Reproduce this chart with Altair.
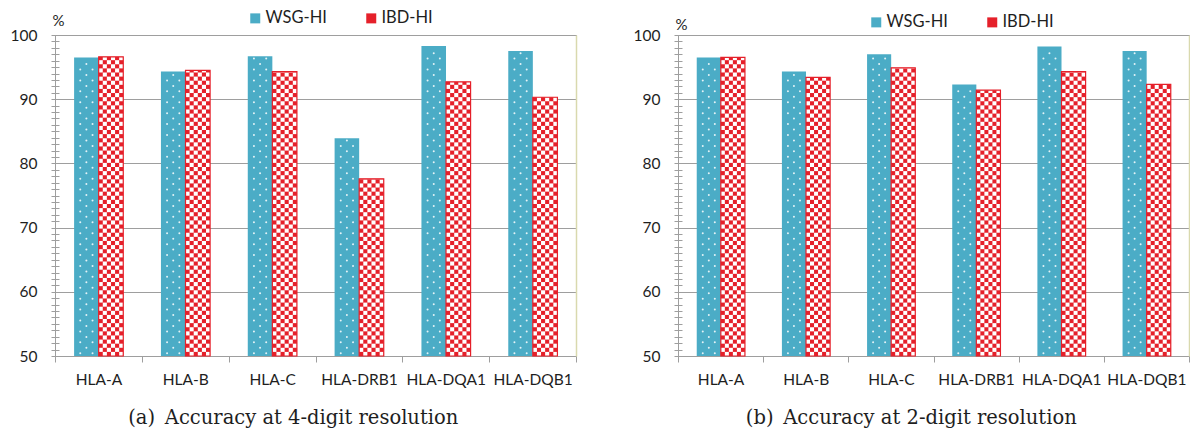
import json
import altair as alt
import pandas as pd

# ---------------- data ----------------
categories = ["HLA-A", "HLA-B", "HLA-C", "HLA-DRB1", "HLA-DQA1", "HLA-DQB1"]
series_names = ["WSG-HI", "IBD-HI"]
wsg_4digit = [96.5, 94.3, 96.7, 83.9, 98.3, 97.5]
ibd_4digit = [96.6, 94.5, 94.3, 77.6, 92.7, 90.3]
wsg_2digit = [96.5, 94.3, 97.0, 92.3, 98.2, 97.5]
ibd_2digit = [96.5, 93.4, 94.9, 91.4, 94.3, 92.3]
y_tick_values = list(range(50, 101))
y_label_values = [50, 60, 70, 80, 90, 100]
captions = ["(a)\u2002Accuracy at 4-digit resolution",
            "(b)\u2002Accuracy at 2-digit resolution"]

# ---------------- style ----------------
TEAL = "#4BACC6"
RED = "#E5202A"
GRAY = "#9E9E9E"
BORDER_R = "#D9D9AE"
TXT = "#1E1E1E"
FONT = "Lato"

B0 = 0.22      # bar start inside band
BW = 0.283     # bar width (band units)
NCOL = 6       # checker columns
CW = BW / NCOL
CH = 0.64      # checker cell height (y units)
DR = 0.85      # dot row pitch (y units)


def make_df(wsg, ibd):
    rows = []
    for i, c in enumerate(categories):
        rows.append(dict(cat=c, idx=i, series=series_names[0], s=0, value=wsg[i]))
        rows.append(dict(cat=c, idx=i, series=series_names[1], s=1, value=ibd[i]))
    return pd.DataFrame(rows)


xscale = alt.Scale(domain=[0, 6], nice=False, zero=False)
yscale = alt.Scale(domain=[50, 100], nice=False, zero=False)

label_expr_x = ("datum.value % 1 !== 0 ? " + json.dumps(categories)
                + "[floor(datum.value)] : ''")

x_axis = alt.Axis(
    values=[i / 2 for i in range(13)],
    labelExpr=label_expr_x,
    tickOpacity={"condition": {"test": "datum.value % 1 === 0", "value": 1}, "value": 0},
    tickSize=6, tickColor=GRAY, domainColor=GRAY, grid=False, title=None,
    labelFont=FONT, labelFontSize=15.5, labelColor=TXT, labelPadding=10,
    labelFlush=False, labelOverlap=False, labelBound=False,
)


def panel(df, width, height, caption, legend_x, legend_y, pct_y):
    base = alt.Chart(df).transform_calculate(
        x0=f"datum.idx + {B0} + datum.s * {BW}",
        x1=f"datum.idx + {B0} + (datum.s + 1) * {BW}",
    )

    y_axis = alt.Axis(
        orient="left",
        values=y_tick_values,
        labelExpr="indexof(" + json.dumps(y_label_values) + ", datum.value) >= 0 ? datum.label : ''",
        tickSize=4, tickColor=GRAY, domain=True, domainColor=GRAY,
        grid=True, gridColor=GRAY,
        gridOpacity={"condition": {"test": "datum.value % 10 === 0 && datum.value > 50", "value": 1}, "value": 0},
        labelFont=FONT, labelFontSize=15.5, labelColor=TXT, labelPadding=14,
        labelOverlap=False, labelFlush=False, labelBound=False,
        title="%", titleAngle=0, titleX=-3, titleY=pct_y, titleAlign="left",
        titleBaseline="middle", titleFont=FONT, titleFontSize=15,
        titleFontWeight="normal", titleColor=TXT,
    )
    y_inner_ticks = alt.Axis(
        orient="left", values=y_tick_values, offset=-4, tickSize=4,
        tickColor=GRAY, labels=False, domain=False, grid=False, title=None,
    )

    bars = base.mark_rect().encode(
        x=alt.X("x0:Q", scale=xscale, axis=x_axis),
        x2="x1:Q",
        y=alt.Y("value:Q", scale=yscale, axis=y_axis),
        y2=alt.datum(50),
        color=alt.Color(
            "series:N",
            scale=alt.Scale(domain=series_names, range=[TEAL, RED]),
            sort=series_names,
            legend=alt.Legend(
                orient="none", legendX=legend_x, legendY=legend_y,
                direction="horizontal", title=None, symbolType="square",
                symbolSize=100, symbolStrokeWidth=0, labelFont=FONT,
                labelFontSize=16.5, labelColor=TXT, labelOffset=2,
                columnPadding=36, padding=0,
            ),
        ),
    )

    dots = base.transform_filter("datum.s === 0").transform_calculate(
        drow=f"sequence(0, floor((datum.value - 50) / {DR}) + 1)"
    ).transform_flatten(["drow"]).transform_calculate(
        dcol="datum.drow % 2 === 0 ? [0.25, 0.75] : [0.5]"
    ).transform_flatten(["dcol"]).transform_calculate(
        dx=f"datum.idx + {B0} + datum.dcol * {BW}",
        dy=f"50 + {DR / 2} + datum.drow * {DR}",
    ).transform_filter("datum.dy < datum.value - 0.3").mark_circle(
        size=4, color="white", opacity=0.85
    ).encode(
        x=alt.X("dx:Q", scale=xscale, axis=x_axis),
        y=alt.Y("dy:Q", scale=yscale, axis=y_inner_ticks),
    )

    cells = base.transform_filter("datum.s === 1").transform_calculate(
        crow=f"sequence(0, ceil((datum.value - 50) / {CH}))"
    ).transform_flatten(["crow"]).transform_calculate(
        ccol=f"sequence(0, {NCOL})"
    ).transform_flatten(["ccol"]).transform_filter(
        "(datum.crow + datum.ccol) % 2 === 1"
    ).transform_calculate(
        cx0=f"datum.idx + {B0 + BW} + datum.ccol * {CW}",
        cx1=f"datum.idx + {B0 + BW} + (datum.ccol + 1) * {CW}",
        cy0=f"50 + datum.crow * {CH}",
        cy1=f"min(datum.value, 50 + (datum.crow + 1) * {CH})",
    ).mark_rect(color="white").encode(
        x=alt.X("cx0:Q", scale=xscale, axis=x_axis),
        x2="cx1:Q",
        y=alt.Y("cy0:Q", scale=yscale, axis=None),
        y2="cy1:Q",
    )

    outline = base.transform_filter("datum.s === 1").mark_rect(
        filled=False, color=RED, strokeWidth=1.2
    ).encode(
        x=alt.X("x0:Q", scale=xscale, axis=x_axis),
        x2="x1:Q",
        y=alt.Y("value:Q", scale=yscale,
                axis=alt.Axis(orient="right", domainColor=BORDER_R, domainWidth=1.5,
                              ticks=False, labels=False, grid=False, title=None)),
        y2=alt.datum(50),
    )

    return alt.layer(bars, dots, cells, outline).resolve_axis(y="independent").properties(
        width=width, height=height,
        title=alt.TitleParams(
            text=caption, orient="bottom", anchor="middle", frame="bounds",
            font="DejaVu Serif", fontSize=19.5, fontWeight="normal", color=TXT,
            offset=21,
        ),
    )


left = panel(make_df(wsg_4digit, ibd_4digit), 521, 321, captions[0], 192, -25, -15)
right = panel(make_df(wsg_2digit, ibd_2digit), 511, 321, captions[1], 190, -21, -11)

chart = alt.hconcat(left, right, spacing=55).resolve_legend(color="independent").configure(
    padding={"left": 1, "top": 1, "right": 0, "bottom": 0},
    background="white",
).configure_view(stroke=GRAY, strokeWidth=1)

chart.save("out.html", embed_options={"renderer": "svg", "actions": False})
